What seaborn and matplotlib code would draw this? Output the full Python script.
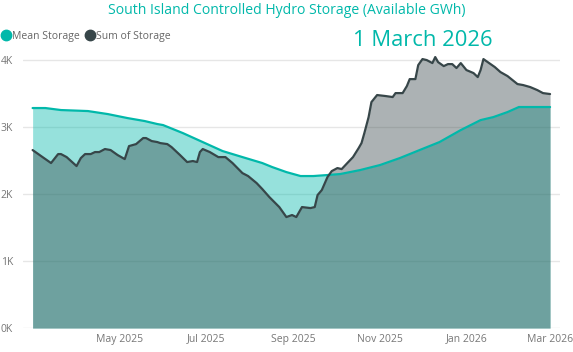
import matplotlib
matplotlib.use("Agg")
import matplotlib.pyplot as plt
from matplotlib.lines import Line2D
import pandas as pd
import seaborn as sns

# ---------------- data ----------------
sum_dates = [
    "2025-03-01", "2025-03-07", "2025-03-14", "2025-03-19", "2025-03-21", "2025-03-25",
    "2025-04-01", "2025-04-04", "2025-04-07", "2025-04-11", "2025-04-14", "2025-04-17",
    "2025-04-21", "2025-04-25", "2025-04-30", "2025-05-05", "2025-05-08", "2025-05-13",
    "2025-05-18", "2025-05-20", "2025-05-24", "2025-05-28", "2025-05-30", "2025-06-04",
    "2025-06-07", "2025-06-13", "2025-06-18", "2025-06-22", "2025-06-25", "2025-06-27",
    "2025-06-29", "2025-07-04", "2025-07-10", "2025-07-15", "2025-07-20", "2025-07-27",
    "2025-07-31", "2025-08-06", "2025-08-10", "2025-08-15", "2025-08-22", "2025-08-27",
    "2025-08-31", "2025-09-03", "2025-09-07", "2025-09-13", "2025-09-16", "2025-09-18",
    "2025-09-21", "2025-09-25", "2025-09-28", "2025-10-02", "2025-10-05", "2025-10-09",
    "2025-10-13", "2025-10-17", "2025-10-19", "2025-10-21", "2025-10-24", "2025-10-26",
    "2025-10-30", "2025-11-05", "2025-11-10", "2025-11-12", "2025-11-17", "2025-11-20",
    "2025-11-22", "2025-11-26", "2025-11-28", "2025-12-01", "2025-12-04", "2025-12-08",
    "2025-12-10", "2025-12-12", "2025-12-16", "2025-12-19", "2025-12-22", "2025-12-25",
    "2025-12-28", "2026-01-01", "2026-01-06", "2026-01-09", "2026-01-11", "2026-01-13",
    "2026-01-16", "2026-01-21", "2026-01-25", "2026-01-30", "2026-02-06", "2026-02-10",
    "2026-02-15", "2026-02-20", "2026-02-24", "2026-03-01",
]
sum_storage = [
    2657, 2567, 2463, 2597, 2597, 2552,
    2418, 2537, 2597, 2597, 2627, 2627,
    2672, 2657, 2582, 2522, 2716, 2746,
    2836, 2836, 2791, 2776, 2761, 2746,
    2701, 2582, 2478, 2493, 2478, 2627,
    2672, 2627, 2552, 2552, 2463, 2313,
    2269, 2164, 2075, 1955, 1806, 1657,
    1687, 1657, 1806, 1791, 1806, 1985,
    2060, 2254, 2343, 2388, 2373, 2463,
    2552, 2687, 2761, 2910, 3149, 3373,
    3478, 3463, 3448, 3507, 3507, 3612,
    3716, 3716, 3925, 4015, 4000, 3955,
    4045, 3970, 3910, 3940, 3940, 3881,
    3955, 3851, 3806, 3746, 3851, 4015,
    3970, 3896, 3821, 3761, 3642, 3627,
    3597, 3552, 3507, 3493,
]

mean_dates = [
    "2025-03-01", "2025-03-10", "2025-03-21", "2025-04-09", "2025-04-23", "2025-05-07",
    "2025-05-19", "2025-05-28", "2025-06-01", "2025-06-15", "2025-06-29", "2025-07-13",
    "2025-07-27", "2025-08-10", "2025-08-17", "2025-08-27", "2025-09-06", "2025-09-15",
    "2025-09-25", "2025-10-04", "2025-10-18", "2025-11-01", "2025-11-15", "2025-11-29",
    "2025-12-13", "2025-12-28", "2026-01-11", "2026-01-20", "2026-01-30", "2026-02-07",
    "2026-02-22", "2026-03-01",
]
mean_storage = [
    3284, 3284, 3254, 3239, 3194, 3134,
    3090, 3045, 3030, 2910, 2776, 2642,
    2552, 2463, 2403, 2328, 2269, 2269,
    2284, 2299, 2358, 2433, 2537, 2657,
    2776, 2955, 3104, 3149, 3224, 3299,
    3299, 3299,
]

tick_dates = ["2025-05-01", "2025-07-01", "2025-09-01", "2025-11-01", "2026-01-01", "2026-03-01"]
tick_labels = ["May 2025", "Jul 2025", "Sep 2025", "Nov 2025", "Jan 2026", "Mar 2026"]
y_ticks = [0, 1000, 2000, 3000, 4000]
y_labels = ["0K", "1K", "2K", "3K", "4K"]

title = "South Island Controlled Hydro Storage (Available GWh)"
date_note = "1 March 2026"
series_names = ["Mean Storage", "Sum of Storage"]

# ---------------- styling ----------------
TEAL = "#01B8AA"
DARK = "#374649"
GREY_TXT = "#777777"

sns.set_style("white")
plt.rcParams["font.family"] = ["Open Sans", "DejaVu Sans"]

df_sum = pd.DataFrame({"date": pd.to_datetime(sum_dates), "storage": sum_storage})
df_mean = pd.DataFrame({"date": pd.to_datetime(mean_dates), "storage": mean_storage})

fig = plt.figure(figsize=(5.73, 3.52), dpi=100)
ax = fig.add_axes([0.0396, 0.068, 0.9377, 0.7994])

ax.fill_between(df_mean["date"], df_mean["storage"], color=TEAL, alpha=0.41, linewidth=0, zorder=1)
ax.fill_between(df_sum["date"], df_sum["storage"], color=DARK, alpha=0.41, linewidth=0, zorder=2)
sns.lineplot(data=df_mean, x="date", y="storage", color=TEAL, linewidth=1.6, ax=ax, zorder=3)
sns.lineplot(data=df_sum, x="date", y="storage", color=DARK, linewidth=1.6, ax=ax, zorder=4)

ax.set_ylim(0, 4200)
ax.set_xlim(pd.Timestamp("2025-02-22"), pd.Timestamp("2026-03-08"))
ax.set_yticks(y_ticks)
ax.set_yticklabels(y_labels)
ax.set_xticks(pd.to_datetime(tick_dates))
ax.set_xticklabels(tick_labels)
ax.set_xlabel("")
ax.set_ylabel("")
ax.grid(axis="y", color="#E6E6E6", linewidth=1)
ax.grid(axis="x", visible=False)
ax.set_axisbelow(True)
for s in ax.spines.values():
    s.set_visible(False)
ax.tick_params(axis="both", length=0, labelsize=7.5, colors=GREY_TXT)
ax.tick_params(axis="y", pad=7)
ax.tick_params(axis="x", pad=4)

fig.text(0.5, 1 - 11 / 352, title, ha="center", va="center", color=TEAL, fontsize=10.1)
fig.text(0.738, 1 - 41 / 352, date_note, ha="center", va="center", color=TEAL, fontsize=15.8)

handles = [
    Line2D([], [], marker="o", linestyle="", markersize=7.5, color=TEAL),
    Line2D([], [], marker="o", linestyle="", markersize=7.5, color=DARK),
]
fig.legend(handles, series_names, loc="center left", bbox_to_anchor=(-0.006, 1 - 36 / 352),
           ncol=2, frameon=False, fontsize=7.5, handletextpad=0.05, columnspacing=0.5,
           labelcolor="#666666", borderaxespad=0, handlelength=1.0)

fig.savefig("out.png", dpi=100)
